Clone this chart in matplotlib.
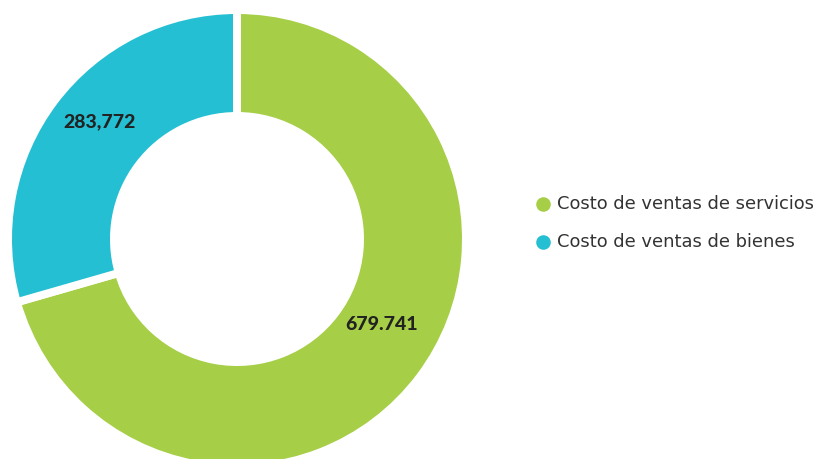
import matplotlib
matplotlib.use("Agg")
import matplotlib.pyplot as plt

categories = ["Costo de ventas de servicios", "Costo de ventas de bienes"]
values = [679.741, 283.772]
value_labels = ["679.741", "283,772"]
colors = ["#A6CE46", "#24BFD3"]

W, H = 818, 459
fig = plt.figure(figsize=(W / 100, H / 100), dpi=100)
ax = fig.add_axes([0, 0, 1, 1])

cx, cy = 237, H - 239
gap_px = 8
R = 225 + gap_px / 2
r_in = 127 - gap_px / 2
wedges, _ = ax.pie(values, colors=colors, startangle=90, counterclock=False,
                   center=(cx, cy), radius=R, frame=True,
                   wedgeprops=dict(width=R - r_in, edgecolor="white",
                                   linewidth=gap_px * 72 / 100))
ax.set_xlim(0, W)
ax.set_ylim(0, H)
ax.set_aspect("equal")
ax.axis("off")

label_pos = [(382, H - 325), (100, H - 122)]
for (x, y), t in zip(label_pos, value_labels):
    ax.text(x, y, t, ha="center", va="center", fontsize=14, fontweight=900,
            family="Lato", color="#222222")

leg_y = [H - 204, H - 242]
for y, c, name in zip(leg_y, colors, categories):
    ax.scatter([543], [y], s=110, color=c, zorder=5, linewidths=0)
    ax.text(557, y, name, ha="left", va="center", fontsize=12.9,
            family="DejaVu Sans", color="#333333")

fig.savefig("out.png", dpi=100)
